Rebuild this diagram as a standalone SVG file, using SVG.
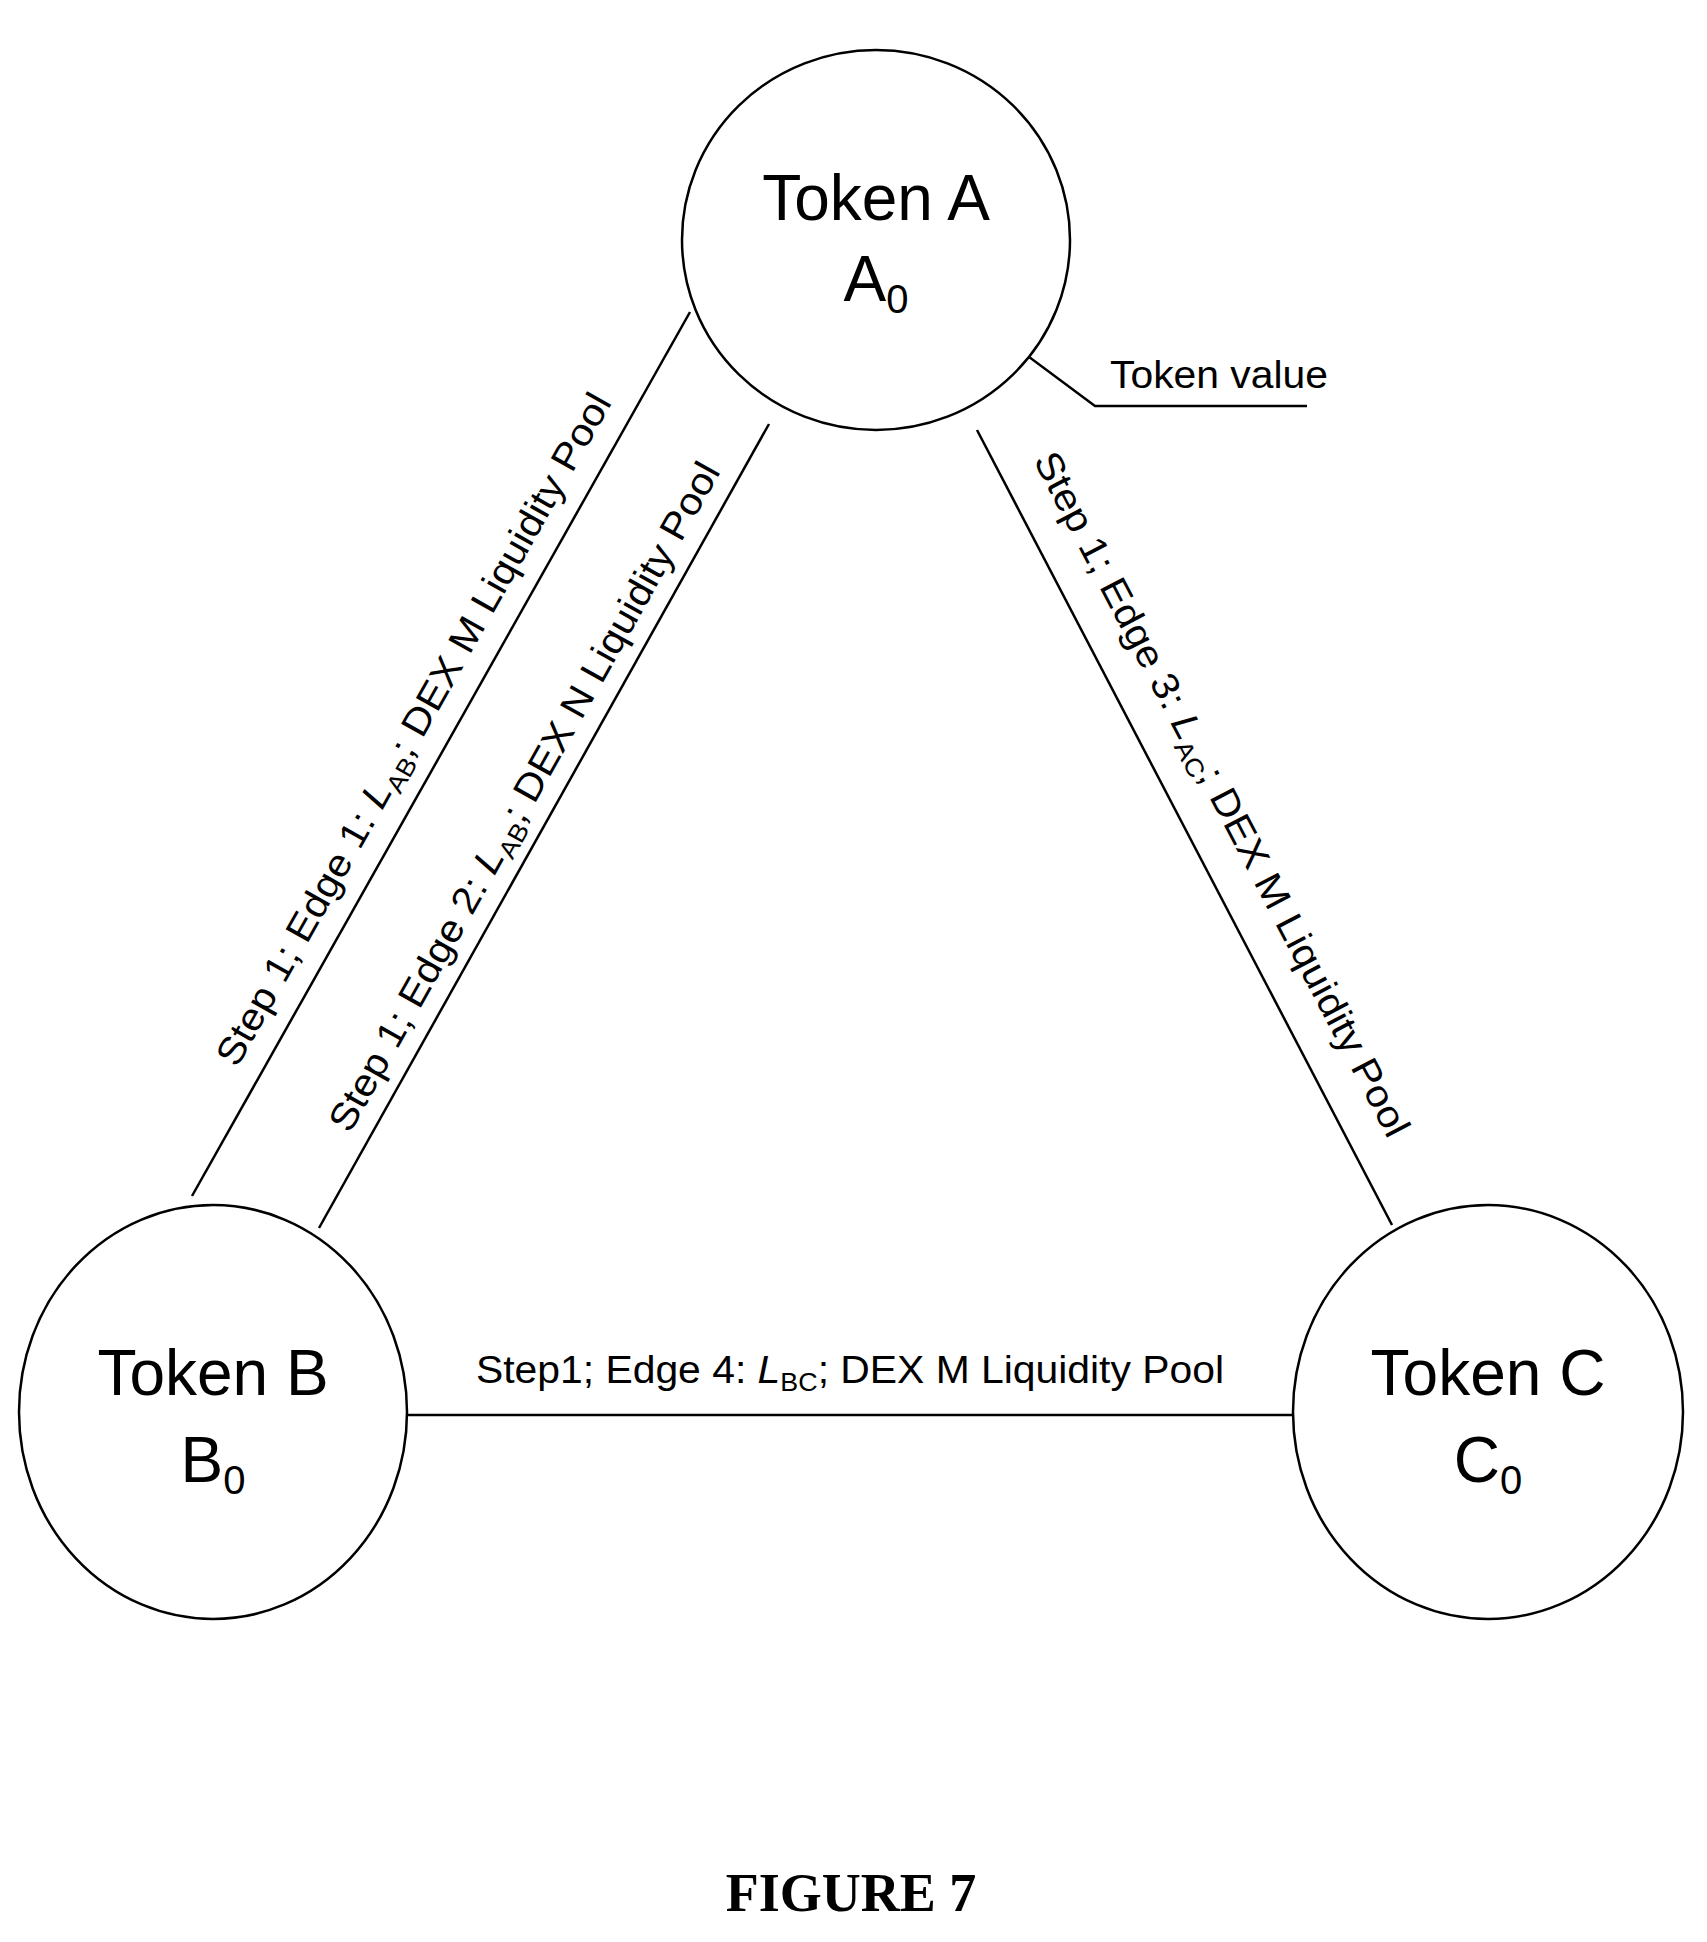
<svg xmlns="http://www.w3.org/2000/svg" width="1707" height="1942" viewBox="0 0 1707 1942">
<style>
.n{fill:#fff;stroke:#000;stroke-width:2.5}
.c line,.c polyline{stroke:#000;stroke-width:2.5;fill:none}
.t{font-family:"Liberation Sans",Arial,sans-serif;font-size:64px;text-anchor:middle;fill:#000}
.l{font-family:"Liberation Sans",Arial,sans-serif;font-size:38px;fill:#000}
.s{font-size:25px}
</style>
<rect width="1707" height="1942" fill="#fff"/>
<g class="c" id="connectors">
<line x1="690" y1="312" x2="192" y2="1196"/>
<line x1="769" y1="424" x2="319" y2="1228"/>
<line x1="977" y1="430" x2="1392" y2="1225"/>
<line x1="408" y1="1415" x2="1295" y2="1415"/>
<polyline points="943,293 1095,406 1307,406"/>
</g>
<g id="nodeA"><ellipse class="n" cx="876" cy="240" rx="194" ry="190"/>
<text class="t" x="876" y="220">Token A</text>
<text class="t" x="876" y="301">A<tspan font-size="40" dy="12">0</tspan></text></g>
<g id="nodeB"><ellipse class="n" cx="213" cy="1412" rx="194" ry="207"/>
<text class="t" x="213" y="1395">Token B</text>
<text class="t" x="213" y="1482">B<tspan font-size="40" dy="12">0</tspan></text></g>
<g id="nodeC"><ellipse class="n" cx="1488" cy="1412" rx="195" ry="207"/>
<text class="t" x="1488" y="1395">Token C</text>
<text class="t" x="1488" y="1482">C<tspan font-size="40" dy="12">0</tspan></text></g>
<g id="labels">
<text class="l" x="1110" y="388" textLength="218" lengthAdjust="spacingAndGlyphs">Token value</text>
<text class="l" x="476" y="1383" textLength="748" lengthAdjust="spacingAndGlyphs">Step1; Edge 4: <tspan font-style="italic">L</tspan><tspan class="s" dy="8">BC</tspan><tspan dy="-8">; DEX M Liquidity Pool</tspan></text>
<g transform="translate(414,730) rotate(-60.6)"><text class="l" x="-382" y="12" textLength="765" lengthAdjust="spacingAndGlyphs">Step 1; Edge 1: <tspan font-style="italic">L</tspan><tspan class="s" dy="8">AB</tspan><tspan dy="-8">; DEX M Liquidity Pool</tspan></text></g>
<g transform="translate(525,797) rotate(-60.75)"><text class="l" x="-380" y="12" textLength="760" lengthAdjust="spacingAndGlyphs">Step 1; Edge 2: <tspan font-style="italic">L</tspan><tspan class="s" dy="8">AB</tspan><tspan dy="-8">; DEX N Liquidity Pool</tspan></text></g>
<g transform="translate(1221,794) rotate(62.4)"><text class="l" x="-383" y="12" textLength="767" lengthAdjust="spacingAndGlyphs">Step 1; Edge 3: <tspan font-style="italic">L</tspan><tspan class="s" dy="8">AC</tspan><tspan dy="-8">; DEX M Liquidity Pool</tspan></text></g>
<text x="851" y="1911" font-family="'Liberation Serif',serif" font-weight="bold" font-size="54" text-anchor="middle">FIGURE 7</text>
</g>
</svg>
